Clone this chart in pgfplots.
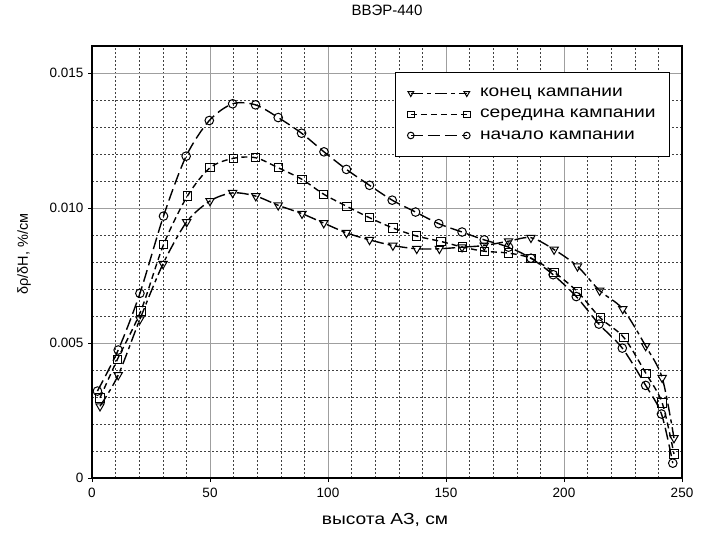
\documentclass[border=0pt]{standalone}
\usepackage{pgfplots}
\pgfplotsset{compat=1.18}
\usepackage{fontspec}
\setmainfont{Liberation Sans}
\newfontfamily\widefont[FakeStretch=1.2]{Liberation Sans}
\begin{document}
\begin{tikzpicture}
\path[use as bounding box] (0,0) rectangle (706pt,539pt);
\begin{axis}[
  at={(92pt,61pt)}, anchor=south west,
  scale only axis, width=590pt, height=432pt,
  xmin=0, xmax=250, ymin=0, ymax=0.016,
  xtick={0,50,100,150,200,250},
  ytick={0,0.005,0.01,0.015},
  yticklabels={0,0.005,0.010,0.015},
  scaled y ticks=false,
  minor x tick num=4, minor y tick num=4,
  minor tick length=0pt,
  major tick length=4pt,
  tick align=outside,
  xtick pos=bottom, ytick pos=left,
  grid=both,
  major grid style={gray!75, line width=0.9pt},
  minor grid style={black!75, line width=0.6pt, dash pattern=on 2pt off 2pt},
  axis line style={black, line width=1.2pt},
  tick style={black, line width=0.8pt},
  /pgf/number format/assume math mode=true,
  ticklabel style={font=\fontsize{13.5}{16}\selectfont},
  xticklabel style={yshift=-3pt},
  yticklabel style={xshift=-1pt},
  title={ВВЭР-440},
  title style={at={(axis description cs:0.5,1.069)}, anchor=center, font=\fontsize{15}{18}\selectfont},
  xlabel={высота АЗ, см},
  xlabel style={at={(axis description cs:0.4966,-0.097)}, anchor=center, font=\widefont\fontsize{16}{19}\selectfont},
  ylabel={δρ/δH, \%/см},
  ylabel style={at={(axis description cs:-0.115,0.5185)}, anchor=center, rotate=0, font=\fontsize{14.5}{17}\selectfont},
  legend style={at={(0.98,0.9405)}, anchor=north east, draw=black, line width=1pt, fill=white,
    font=\widefont\fontsize{16}{19}\selectfont, inner xsep=12pt, inner ysep=14pt,
    row sep=7pt, /tikz/every odd column/.append style={column sep=8pt}},
  legend cell align=left,
  legend image code/.code={\draw[#1, mark size=3.3pt] plot coordinates {(0pt,0pt) (56pt,0pt)};},
]
\addplot[black, line width=1.4pt, smooth, tension=0.5,
  dash pattern=on 12pt off 4pt on 4pt off 4pt,
  mark=triangle, mark size=4.8pt, mark options={solid, rotate=180, line width=1pt, fill=white}]
coordinates {
(3.4,0.00266) (11.1,0.00381) (20.3,0.00588) (30.1,0.00793) (40.1,0.00948)
(50,0.01026) (59.6,0.01056) (69.4,0.01044) (78.9,0.01010) (89,0.00979)
(98.2,0.00944) (107.8,0.00908) (117.6,0.00882) (127.5,0.00861) (137.6,0.00849)
(147.2,0.00849) (156.8,0.00855) (166.2,0.00861) (176.5,0.00877) (186,0.00890)
(195.8,0.00846) (205.7,0.00784) (215.1,0.00694) (224.9,0.00626) (234.6,0.00489)
(241.6,0.00371) (246.6,0.00148)};
\addlegendentry{конец кампании}
\addplot[black, line width=1.4pt, smooth, tension=0.5,
  dash pattern=on 6pt off 4pt,
  mark=square, mark size=4.2pt, mark options={solid, line width=1pt, fill=white}]
coordinates {
(3.4,0.00297) (10.8,0.00440) (20.7,0.00619) (30.3,0.00864) (40.4,0.01044)
(50,0.01149) (59.9,0.01184) (69.4,0.01186) (78.9,0.01149) (89,0.01106)
(98.2,0.01051) (108,0.01006) (117.6,0.00964) (127.5,0.00926) (137.6,0.00896)
(147.9,0.00876) (157.1,0.00855) (166.2,0.00840) (176.5,0.00833) (186,0.00814)
(195.8,0.00762) (205.7,0.00690) (215.5,0.00592) (225.4,0.00520) (234.8,0.00386)
(241.6,0.00278) (246.6,0.00089)};
\addlegendentry{середина кампании}
\addplot[black, line width=1.4pt, smooth, tension=0.5,
  dash pattern=on 12pt off 5pt,
  mark=o, mark size=4.3pt, mark options={solid, line width=1pt, fill=white}]
coordinates {
(2.3,0.00322) (11.1,0.00474) (20.3,0.00684) (30.3,0.00970) (39.9,0.01192)
(49.7,0.01324) (59.6,0.01386) (69.3,0.01382) (78.9,0.01335) (88.8,0.01277)
(98.3,0.01208) (107.8,0.01143) (117.6,0.01084) (127.2,0.01029) (137.1,0.00985)
(146.9,0.00942) (156.8,0.00911) (166.2,0.00882) (176.5,0.00855) (186,0.00814)
(195.4,0.00753) (205.2,0.00672) (214.8,0.00570) (224.7,0.00481) (234.6,0.00343)
(241.3,0.00237) (246.1,0.00055)};
\addlegendentry{начало кампании}
\end{axis}
\end{tikzpicture}
\end{document}
